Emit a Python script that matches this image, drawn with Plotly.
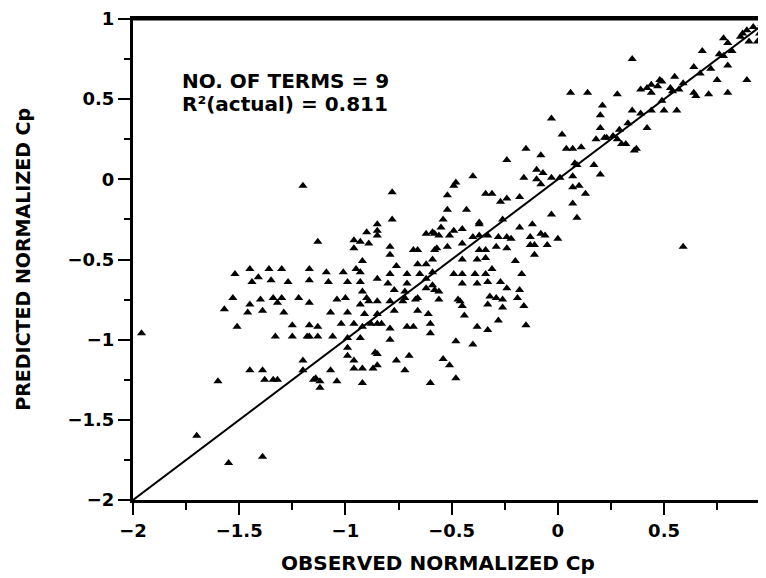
import plotly.graph_objects as go

# observed vs predicted normalized Cp
observed_cp = [
    -1.96, -1.60, -1.45, -1.39, -1.38, -1.34, -1.32, -1.70, -1.55, -1.39,
    -1.52, -1.41, -1.36, -1.35, -1.44, -1.27, -1.53, -1.40, -1.34, -1.30,
    -1.32, -1.45, -1.57, -1.46, -1.39, -1.29, -1.51, -1.33, -1.22, -1.17,
    -1.25, -1.25, -1.17, -1.17, -1.06, -1.02, -1.07, -0.99, -1.04, -0.93,
    -0.90, -0.88, -0.85, -1.20, -1.20, -1.07, -1.12, -1.12, -1.14, -1.04,
    -0.92, -0.99, -0.96, -0.96, -0.92, -0.87, -0.85, -0.99, -0.99, -1.15,
    -1.20, -1.13, -0.96, -0.90, -0.85, -0.93, -1.45, -1.30, -1.17, -1.09,
    -1.01, -0.95, -0.92, -0.93, -0.78, -0.78, -0.85, -0.85, -0.89, -0.96,
    -0.79, -0.79, -0.68, -0.66, -0.62, -0.58, -0.58, -0.76, -0.66, -0.62,
    -0.59, -0.59, -0.93, -0.85, -0.79, -0.71, -0.71, -0.65, -0.62, -1.17,
    -1.08, -0.99, -0.92, -0.80, -0.77, -0.72, -0.67, -0.62, -0.58, -1.00,
    -0.89, -0.85, -0.79, -0.73, -0.91, -0.85, -0.77, -0.66, -0.61, -1.13,
    -0.96, -0.92, -0.83, -0.79, -0.71, -0.68, -0.60, -0.60, -1.18, -1.13,
    -0.93, -0.79, -0.86, -0.70, -0.76, -0.85, -0.72, -0.60, -0.72, -0.66,
    -0.56, -0.46, -0.45, -0.44, -0.32, -0.29, -0.33, -0.26, -0.19, -0.16,
    -0.28, -0.15, -0.38, -0.33, -0.48, -0.40, -0.54, -0.51, -0.48, -0.56,
    -0.51, -0.40, -0.37, -0.33, -0.28, -0.24, -0.22, -0.13, -0.06, 0.00,
    -0.13, -0.11, -0.05, -0.57, -0.52, -0.45, -0.37, -0.34, -0.29, -0.24,
    -0.11, -0.45, -0.38, -0.34, -0.20, -0.49, -0.45, -0.39, -0.34, -0.31,
    -0.45, -0.38, -0.33, -0.27, -0.24, -0.17, -0.18, -0.59, -0.56, -0.47,
    -0.26, -0.03, 0.02, -0.15, 0.04, 0.07, 0.11, -0.08, -0.24, 0.08,
    -0.10, -0.07, -0.10, -0.08, -0.03, 0.01, -0.16, 0.07, -0.40, -0.48,
    -0.49, 0.07, 0.10, 0.13, 0.07, -0.52, -0.34, -0.31, -0.27, -0.24,
    -0.18, -0.52, -0.43, -0.54, -0.37, -0.55, -0.26, -0.03, 0.09, -0.59,
    -0.49, -0.45, -0.18, -0.12, -0.08, 0.35, 0.68, 0.89, 0.06, 0.14,
    0.28, 0.80, 0.71, 0.21, 0.20, 0.35, 0.42, 0.50, 0.56, 0.37,
    0.20, 0.17, 0.20, 0.18, 0.23, 0.28, 0.32, 0.29, 0.33, 0.39,
    0.44, 0.47, 0.49, 0.53, 0.55, 0.57, 0.59, 0.64, 0.65, 0.39,
    0.42, 0.44, 0.64, 0.67, 0.72, 0.75, 0.80, 0.78, 0.82, 0.80,
    0.86, 0.89, 0.92, 0.95, 0.96, 0.94, 0.78, 0.48, 0.76, 0.87,
    0.90, 0.54, 0.49, 0.44, 0.26, 0.22, 0.36, 0.30, 0.59, 0.09,
    -0.37,
]
predicted_cp = [
    -0.96, -1.26, -1.19, -1.19, -1.25, -1.25, -1.25, -1.60, -1.77, -1.73,
    -0.59, -0.61, -0.56, -0.63, -0.64, -0.64, -0.74, -0.75, -0.74, -0.74,
    -0.77, -0.78, -0.81, -0.83, -0.82, -0.83, -0.92, -0.98, -0.74, -0.77,
    -0.91, -0.98, -0.91, -0.98, -0.98, -0.90, -0.83, -0.83, -0.75, -0.78,
    -0.74, -0.90, -0.90, -1.13, -1.19, -1.19, -1.26, -1.30, -1.24, -1.26,
    -1.27, -1.10, -1.13, -1.18, -1.18, -1.18, -1.09, -0.99, -1.05, -1.25,
    -0.04, -0.39, -0.38, -0.33, -0.28, -0.39, -0.56, -0.56, -0.56, -0.58,
    -0.58, -0.56, -0.51, -0.64, -0.08, -0.25, -0.32, -0.35, -0.40, -0.43,
    -0.42, -0.47, -0.44, -0.44, -0.34, -0.34, -0.44, -0.54, -0.53, -0.53,
    -0.50, -0.58, -0.58, -0.62, -0.59, -0.59, -0.65, -0.59, -0.62, -0.63,
    -0.64, -0.64, -0.70, -0.65, -0.69, -0.70, -0.75, -0.68, -0.69, -0.74,
    -0.76, -0.76, -0.76, -0.76, -0.84, -0.84, -0.82, -0.82, -0.84, -0.92,
    -0.90, -0.92, -0.90, -0.93, -0.92, -0.92, -0.90, -0.96, -0.98, -0.98,
    -0.99, -1.00, -1.08, -1.10, -1.13, -1.16, -1.19, -1.27, -0.74, -0.74,
    -0.75, -0.76, -0.79, -0.85, -0.73, -0.74, -0.78, -0.80, -0.74, -0.79,
    -0.88, -0.91, -0.92, -0.94, -1.01, -1.03, -1.12, -1.16, -1.24, -0.35,
    -0.35, -0.36, -0.35, -0.35, -0.36, -0.36, -0.37, -0.36, -0.35, -0.37,
    -0.41, -0.41, -0.41, -0.43, -0.42, -0.40, -0.44, -0.44, -0.42, -0.43,
    -0.47, -0.50, -0.50, -0.49, -0.51, -0.59, -0.59, -0.59, -0.59, -0.56,
    -0.65, -0.65, -0.64, -0.64, -0.68, -0.59, -0.69, -0.66, -0.70, -0.75,
    -0.75, 0.38, 0.28, 0.19, 0.19, 0.19, 0.20, 0.15, 0.12, 0.10,
    0.06, 0.04, 0.00, -0.03, 0.01, 0.01, 0.01, 0.02, 0.02, -0.02,
    -0.04, -0.05, -0.04, -0.09, -0.15, -0.10, -0.09, -0.09, -0.14, -0.12,
    -0.11, -0.19, -0.19, -0.25, -0.28, -0.30, -0.25, -0.22, -0.24, -0.33,
    -0.32, -0.31, -0.30, -0.28, -0.34, 0.75, 0.80, 0.62, 0.54, 0.54,
    0.53, 0.54, 0.53, 0.46, 0.40, 0.43, 0.32, 0.43, 0.43, 0.19,
    0.32, 0.09, 0.03, 0.25, 0.26, 0.25, 0.22, 0.31, 0.35, 0.41,
    0.43, 0.58, 0.61, 0.57, 0.64, 0.56, 0.60, 0.54, 0.52, 0.56,
    0.57, 0.59, 0.70, 0.66, 0.69, 0.62, 0.71, 0.77, 0.80, 0.85,
    0.89, 0.93, 0.95, 0.91, 0.97, 0.86, 0.88, 0.62, 0.78, 0.91,
    0.86, 0.55, 0.49, 0.54, 0.27, 0.26, 0.18, 0.22, -0.42, 0.09,
    -0.27,
]

# line of perfect agreement
perfect_fit = [-2, 1]

x_ticks = [-2, -1.5, -1, -0.5, 0, 0.5]
y_ticks = [-2, -1.5, -1, -0.5, 0, 0.5, 1]

FONT = "DejaVu Sans"

fig = go.Figure()
fig.add_trace(go.Scatter(x=perfect_fit, y=perfect_fit, mode="lines",
                         line=dict(color="black", width=2), hoverinfo="skip"))
fig.add_trace(go.Scatter(x=observed_cp, y=predicted_cp, mode="markers",
                         marker=dict(symbol="triangle-up", size=8, color="black")))

axis_common = dict(
    showgrid=False, zeroline=False,
    showline=True, linecolor="black", linewidth=3,
    ticks="outside", ticklen=12, tickwidth=2, tickcolor="black",
    tickfont=dict(family=FONT, size=18, color="black", weight="bold"),
    ticklabeloverflow="allow",
)
fig.update_xaxes(range=[-2, 0.98], tickvals=x_ticks, mirror=True,
                 minor=dict(dtick=0.25, ticks="outside", ticklen=7,
                            tickwidth=2, tickcolor="black"),
                 **axis_common)
fig.update_yaxes(range=[-2, 1], tickvals=y_ticks,
                 minor=dict(dtick=0.25, ticks="outside", ticklen=6,
                            tickwidth=2, tickcolor="black"),
                 **axis_common)

# top frame line
fig.add_shape(type="line", xref="paper", yref="paper", x0=0, x1=1, y0=1, y1=1,
              line=dict(color="black", width=3))

bold = dict(family=FONT, size=20, color="black", weight="bold")
fig.add_annotation(x=-1.78, y=0.615, xref="x", yref="y", xanchor="left", yanchor="middle",
                   text="NO. OF TERMS = 9", showarrow=False, font=bold)
fig.add_annotation(x=-1.78, y=0.47, xref="x", yref="y", xanchor="left", yanchor="middle",
                   text="R²(actual) = 0.811", showarrow=False, font=bold)
fig.add_annotation(x=-0.175, y=0.5, xref="paper", yref="paper", textangle=-90,
                   xanchor="center", yanchor="middle",
                   text="PREDICTED NORMALIZED Cp", showarrow=False,
                   font=dict(family=FONT, size=19, color="black", weight="bold"))
fig.add_annotation(x=0.482, y=-0.13, xref="paper", yref="paper",
                   xanchor="center", yanchor="middle",
                   text="OBSERVED NORMALIZED Cp", showarrow=False, font=bold)
fig.add_annotation(x=-0.032, y=-0.152, xref="paper", yref="paper",
                   xanchor="left", yanchor="top",
                   text="FIGURE 3-15. OBSERVED VS PREDICTED, NORMALIZED Cp FOR",
                   showarrow=False, font=bold)

# the page body adds an 8px offset, so the figure is sized to fill the rest
fig.update_layout(
    width=758, height=570, autosize=False,
    margin=dict(l=125, r=0, t=7, b=78),
    plot_bgcolor="white", paper_bgcolor="white",
    showlegend=False,
)

fig.write_html("out.html")
